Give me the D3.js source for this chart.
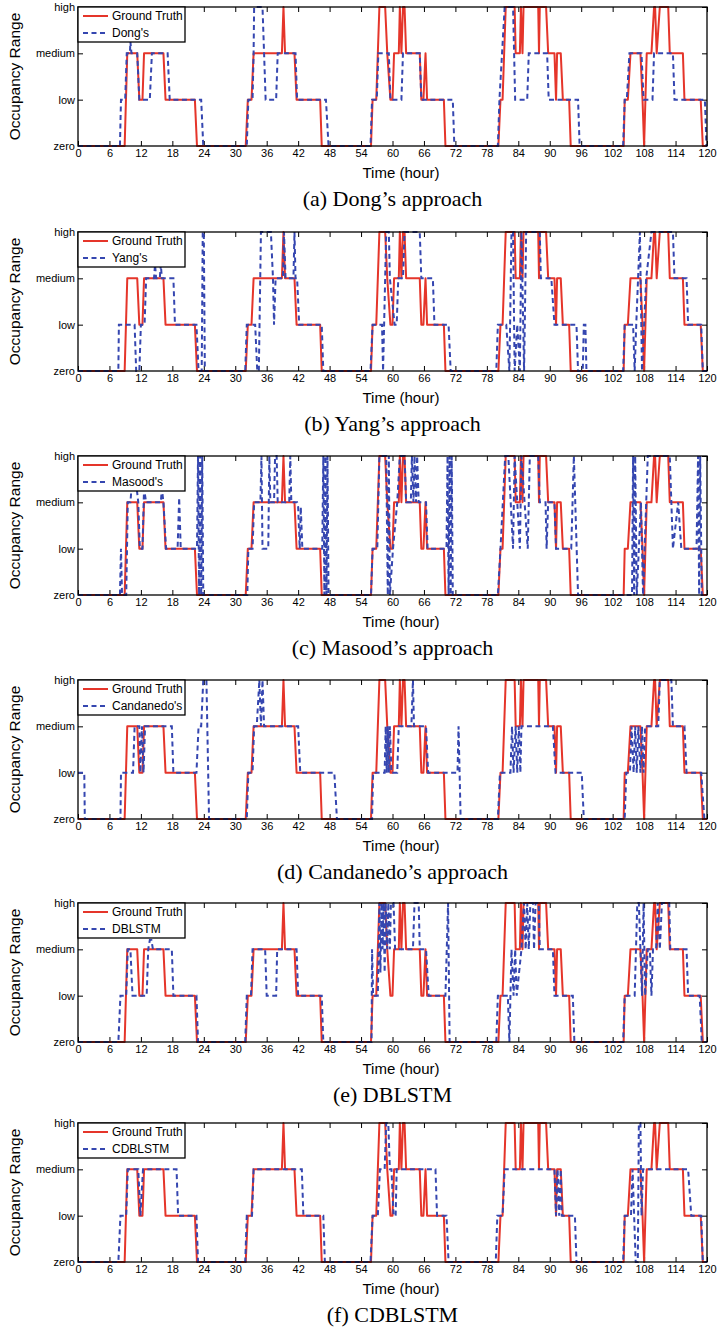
<!DOCTYPE html>
<html>
<head>
<meta charset="utf-8">
<script src="https://cdn.jsdelivr.net/npm/d3@7"></script>
<style>
  body { margin: 0; background: #fff; }
  svg { display: block; }
  .tick text { font-family: "Liberation Sans", Arial, sans-serif; font-size: 11px; fill: #000; }
</style>
</head>
<body>
<svg width="718" height="1328"></svg>
<script>
// occupancy levels on the y axis
var levelLabels = ["zero", "low", "medium", "high"];
var xTickValues = [0, 6, 12, 18, 24, 30, 36, 42, 48, 54, 60, 66, 72, 78, 84, 90, 96, 102, 108, 114, 120];

// ground truth, [hour, level]
var groundTruth = [
  [0,0],[8.9,0],[9.4,2],[11.3,2],[11.7,1],[12.3,1],[12.6,2],[16.3,2],[16.7,1],[22.3,1],[22.7,0],
  [32.0,0],[32.4,1],[33.1,1],[33.5,2],[38.9,2],[39.2,3],[39.5,2],[41.3,2],[41.7,1],[46.2,1],[46.5,0],
  [55.9,0],[56.2,1],[56.9,1],[57.5,3],[58.6,3],[59.0,2],[59.6,1],[60.0,1],[60.3,2],[61.2,2],[61.4,3],[61.7,2],[62.0,3],[62.3,3],[62.6,2],[65.2,2],[65.5,1],[65.9,1],[66.3,2],[66.6,1],[69.8,1],[70.1,0],
  [80.2,0],[80.6,1],[81.0,1],[81.6,3],[83.3,3],[83.5,2],[84.3,2],[84.5,3],[84.8,2],[85.0,3],[87.8,3],[87.95,2],[88.1,3],[89.3,3],[89.7,2],[90.9,2],[91.2,1],[91.4,2],[92.1,2],[92.5,1],[93.7,1],[94.0,0],
  [104.1,0],[104.3,1],[104.9,1],[105.4,2],[107.3,2],[107.7,1],[108.0,0],[108.5,2],[109.4,2],[109.9,3],[110.1,3],[110.4,2],[111.0,3],[112.6,3],[112.9,2],[115.4,2],[115.7,1],[118.8,1],[119.2,0],[120,0]
];

var dong = [
  [0,0],[8.0,0],[8.2,1],[9.0,1],[9.3,2],[9.9,2],[10.0,2.25],[10.2,2],[11.3,2],[11.7,1],[13.7,1],[14.1,2],[17.1,2],[17.5,1],[23.5,1],[23.9,0],
  [32.2,0],[32.5,1],[33.3,1],[33.5,2],[33.6,3],[35.2,3],[35.8,1],[37.8,1],[38.1,2],[41.5,2],[41.8,1],[47.3,1],[47.8,0],
  [55.8,0],[56.1,1],[57.0,1],[57.3,2],[59.3,2],[59.6,1],[61.7,1],[62.0,2],[65.2,2],[65.5,1],[71.5,1],[71.8,0],
  [80.1,0],[80.4,1],[80.9,2],[81.4,3],[83.0,3],[83.4,1],[85.7,1],[86.0,2],[89.5,2],[89.8,1],[95.4,1],[95.7,0],
  [104.0,0],[104.3,1],[104.7,1],[105.2,2],[107.5,2],[107.9,1],[109.6,1],[109.9,2],[113.5,2],[113.8,1],[119.6,1],[119.9,0],[120,0]
];

var yang = [
  [0,0],[7.7,0],[7.8,1],[10.8,1],[11.1,0],[11.7,0],[12.0,1],[12.7,1],[13.0,2],[14.5,2],[14.7,2.3],[14.9,2],[15.6,2],[15.8,2.3],[16.0,2],[18.2,2],[18.5,1],[22.6,1],[23.0,0],[23.6,0],[23.8,3],[24.0,3],[24.2,0],
  [31.9,0],[32.2,1],[33.8,1],[34.2,0],[34.5,0],[34.9,3],[36.8,3],[37.2,2],[37.4,1],[37.7,2],[39.1,2],[39.3,3],[39.6,2],[41.1,2],[41.3,3],[41.5,2],[41.8,2],[42.2,1],[46.5,1],[46.8,0],
  [55.8,0],[56.2,1],[58.0,1],[58.2,0],[58.8,3],[59.3,3],[59.5,2],[60.4,1],[60.8,1],[61.1,2],[62.0,2],[62.3,3],[65.2,3],[65.5,2],[67.7,2],[68.0,1],[70.7,1],[71.1,0],
  [79.8,0],[80.1,1],[81.7,1],[82.3,0],[82.7,3],[83.0,3],[83.3,0],[83.8,1],[84.3,0],[84.6,3],[85.1,0],[85.5,3],[88.1,3],[88.3,2],[90.3,2],[90.9,1],[95.1,1],[95.4,0],[96.3,0],[96.5,1],[96.8,1],[97.0,0],
  [104.0,0],[104.3,1],[105.9,1],[106.2,0],[106.5,1],[107.2,3],[107.6,0],[108.0,1],[108.4,2],[109.4,3],[113.5,3],[113.8,2],[116.1,2],[116.4,1],[118.9,1],[119.2,0],[120,0]
];

var masood = [
  [0,0],[8.0,0],[8.2,1],[8.4,0],[9.2,0],[9.5,2],[10.0,2],[10.2,2.3],[11.2,2.3],[11.5,2],[11.8,1],[12.3,1],[12.6,2.3],[13.0,2],[15.8,2],[16.0,2.3],[16.3,2],[16.8,1],[19.0,1],[19.3,2.1],[19.6,1],[22.7,1],[22.9,3],[23.1,0],[23.3,3],[23.5,0],[23.7,3],[23.9,0],
  [32.3,0],[32.5,1],[33.3,1],[33.6,2],[34.8,2],[35.0,3],[35.2,1],[36.3,1],[36.5,3],[36.7,2],[37.4,2],[37.6,3],[37.9,3],[38.1,2],[40.3,2],[40.5,3],[40.7,2],[41.8,2],[42.0,1.9],[42.3,1],[42.5,1.9],[42.8,1],[46.6,1],[46.8,3],[47.0,0],[47.2,3],[47.4,0],[47.6,3],[47.8,0],
  [55.9,0],[56.2,1],[57.1,1],[57.5,3],[58.8,3],[59.1,0],[59.3,3],[59.5,0],[60.1,1],[60.9,2],[61.4,3],[62.3,3],[62.6,2],[63.5,2],[63.7,3],[64.0,2],[64.2,3],[64.5,2],[64.7,3],[65.0,2],[66.4,2],[66.7,1],[70.3,1],[70.5,3],[70.7,0],[70.9,3],[71.1,0],[71.3,3],[71.5,0],
  [80.1,0],[80.6,1],[81.5,3],[82.1,3],[83.0,1],[83.3,3],[84.3,1],[84.6,3],[85.2,2],[85.8,1],[86.2,3],[87.8,3],[88.1,2],[89.2,2],[89.4,1],[89.7,2],[90.9,2],[91.2,1],[94.1,1],[94.6,3],[95.4,0],
  [104.6,0],[105.7,0],[105.9,3],[106.1,0],[106.3,3],[106.6,0],[107.0,1],[107.4,2],[107.8,0],[108.7,3],[112.9,3],[113.2,2],[113.5,1],[114.5,2],[115.1,1],[118.0,1],[118.3,3],[118.5,0],[118.7,3],[119.0,0],[120,0]
];

var candanedo = [
  [0,1],[1.2,1],[1.3,0],[8.1,0],[8.2,1],[10.5,1],[10.8,2],[11.7,2],[11.9,1],[12.2,2],[12.5,1],[12.8,2],[17.9,2],[18.2,1],[22.6,1],[23.0,2],[23.5,2],[23.9,3],[24.5,3],[25.0,0],
  [32.2,0],[32.5,1],[33.3,1],[33.6,2],[34.1,2],[34.6,3],[34.9,2],[35.2,3],[35.5,2],[42.0,2],[42.4,1],[48.9,1],[49.4,0],
  [56.1,0],[56.3,1],[58.5,1],[58.7,2],[58.9,1],[59.1,2],[59.3,1],[59.5,2],[59.8,1],[60.9,1],[61.2,2],[63.6,2],[63.9,3],[64.1,2],[66.4,2],[66.8,1],[72.4,1],[72.6,2],[73.0,0],
  [80.1,0],[80.5,1],[82.5,1],[82.8,2],[83.1,1],[83.5,2],[83.8,1],[84.1,2],[84.4,1],[84.6,2],[90.6,2],[91.1,1],[96.1,1],[96.5,0],
  [104.3,0],[104.6,1],[105.3,1],[105.6,2],[106.0,1],[106.3,2],[106.6,1],[106.9,2],[107.3,1],[107.6,2],[107.9,1],[108.2,2],[110.7,2],[111.0,3],[113.2,3],[113.5,2],[115.7,2],[116.1,1],[118.9,1],[119.5,0],[120,0]
];

var dblstm = [
  [0,0],[7.7,0],[8.1,1],[9.2,1],[9.5,2],[10.0,2],[10.4,1],[13.1,1],[13.4,2],[13.7,2.2],[14.0,2.2],[14.3,2],[17.9,2],[18.2,1],[22.6,1],[22.9,0],
  [31.9,0],[32.2,1],[33.0,1],[33.3,2],[35.7,2],[36.0,1],[37.8,1],[38.0,2],[41.7,2],[42.0,1],[46.5,1],[46.8,0],
  [56.0,0],[56.1,2],[56.3,1],[57.2,1],[57.5,3],[57.7,1.5],[57.9,3],[58.1,2],[58.3,3],[58.5,1.5],[58.7,3],[59.0,2],[59.2,3],[59.5,2],[59.7,3],[60.2,3],[60.5,2],[63.9,2],[64.2,3],[65.0,3],[65.2,2],[66.4,2],[66.9,1],[70.1,1],[70.6,3],[70.9,0],
  [79.8,0],[80.1,1],[82.0,1],[82.3,0],[82.7,2],[83.1,1],[83.4,2],[83.7,1],[84.6,2],[85.1,3],[85.4,2],[85.7,3],[86.0,2],[86.3,3],[86.8,3],[87.0,2],[87.3,3],[87.9,3],[88.1,2],[90.6,2],[90.9,1],[94.4,1],[94.7,0],
  [104.0,0],[104.3,1],[106.2,1],[106.7,3],[107.0,3],[107.3,2],[107.6,1],[107.9,3],[108.2,1],[108.7,2],[109.1,2],[109.4,1],[109.7,2],[110.3,2],[110.6,3],[111.0,2],[111.4,3],[112.8,3],[113.0,2],[116.1,2],[116.4,1],[118.6,1],[119.0,0],[120,0]
];

var cdblstm = [
  [0,0],[7.7,0],[8.1,1],[9.2,1],[9.5,2],[11.5,2],[11.9,1],[12.4,2],[18.8,2],[19.1,1],[22.6,1],[22.9,0],
  [31.9,0],[32.2,1],[33.2,1],[33.5,2],[42.7,2],[43.0,1],[46.8,1],[47.1,0],
  [55.8,0],[56.2,1],[57.2,1],[57.6,2],[58.5,2],[58.8,3],[59.2,3],[59.5,2],[59.8,2],[60.2,1],[60.6,1],[60.8,2],[68.2,2],[68.5,1],[70.3,1],[70.7,0],
  [79.7,0],[80.0,1],[81.0,1],[81.4,2],[90.9,2],[91.2,1],[91.5,2],[91.8,1],[92.1,2],[92.3,1],[94.8,1],[95.1,0],
  [104.0,0],[104.3,1],[105.5,1],[105.8,2],[106.1,1],[106.4,0],[106.8,0],[107.0,3],[107.3,3],[107.5,1],[107.8,2],[108.1,2],[116.4,2],[117.0,1],[118.9,1],[119.2,0],[120,0]
];

var methodNames = ["Dong's", "Yang's", "Masood's", "Candanedo's", "DBLSTM", "CDBLSTM"];
var captions = ["(a) Dong\u2019s approach", "(b) Yang\u2019s approach", "(c) Masood\u2019s approach",
                "(d) Candanedo\u2019s approach", "(e) DBLSTM", "(f) CDBLSTM"];
var predictions = [dong, yang, masood, candanedo, dblstm, cdblstm];

var svg = d3.select("svg");
var left = 78, plotW = 629, plotH = 139;
var panelTops = [7, 232, 456, 680, 903, 1123];
var red = "#e5352a", blue = "#3546b0";

var x = d3.scaleLinear().domain([0, 120]).range([0, plotW]);
var y = d3.scaleLinear().domain([0, 3]).range([plotH, 0]);

var line = d3.line()
    .x(function(d) { return x(d[0]); })
    .y(function(d) { return y(d[1]); });

predictions.forEach(function(pred, i) {
    var g = svg.append("g")
        .attr("transform", "translate(" + left + "," + panelTops[i] + ")");

    // bottom axis with labels, ticks pointing inward
    var xa = g.append("g")
        .attr("transform", "translate(0," + plotH + ")")
        .call(d3.axisBottom(x).tickValues(xTickValues).tickSizeInner(-5).tickSizeOuter(0).tickPadding(3));
    xa.select(".domain").remove();

    var xt = g.append("g")
        .call(d3.axisTop(x).tickValues(xTickValues).tickSizeInner(-5).tickSizeOuter(0).tickFormat(""));
    xt.select(".domain").remove();

    var ya = g.append("g")
        .call(d3.axisLeft(y).tickValues([0, 1, 2, 3]).tickSizeInner(-5).tickSizeOuter(0).tickPadding(3)
            .tickFormat(function(d) { return levelLabels[d]; }));
    ya.select(".domain").remove();

    var yr = g.append("g")
        .attr("transform", "translate(" + plotW + ",0)")
        .call(d3.axisRight(y).tickValues([0, 1, 2, 3]).tickSizeInner(-5).tickSizeOuter(0).tickFormat(""));
    yr.select(".domain").remove();

    g.selectAll(".tick line").attr("stroke", "#000").attr("stroke-width", 1);

    // series
    g.append("path")
        .datum(groundTruth)
        .attr("fill", "none")
        .attr("stroke", red)
        .attr("stroke-width", 2)
        .attr("stroke-linejoin", "round")
        .attr("d", line);

    g.append("path")
        .datum(pred)
        .attr("fill", "none")
        .attr("stroke", blue)
        .attr("stroke-width", 2)
        .attr("stroke-dasharray", "5,3.5")
        .attr("d", line);

    // axes box
    g.append("rect")
        .attr("width", plotW)
        .attr("height", plotH)
        .attr("fill", "none")
        .attr("stroke", "#000")
        .attr("stroke-width", 1.3);

    // legend
    var lg = g.append("g");
    lg.append("rect")
        .attr("width", 107).attr("height", 35)
        .attr("fill", "#fff").attr("stroke", "#000").attr("stroke-width", 1.3);
    lg.append("line").attr("x1", 5).attr("x2", 30).attr("y1", 9).attr("y2", 9)
        .attr("stroke", red).attr("stroke-width", 2);
    lg.append("line").attr("x1", 5).attr("x2", 30).attr("y1", 26).attr("y2", 26)
        .attr("stroke", blue).attr("stroke-width", 2).attr("stroke-dasharray", "5,3.5");
    lg.append("text").attr("x", 34).attr("y", 13)
        .style("font-family", "Liberation Sans, Arial, sans-serif").style("font-size", "12px")
        .text("Ground Truth");
    lg.append("text").attr("x", 34).attr("y", 30)
        .style("font-family", "Liberation Sans, Arial, sans-serif").style("font-size", "12px")
        .text(methodNames[i]);

    // axis titles
    g.append("text")
        .attr("transform", "translate(-58," + plotH / 2 + ") rotate(-90)")
        .attr("text-anchor", "middle")
        .style("font-family", "Liberation Sans, Arial, sans-serif").style("font-size", "15.5px")
        .text("Occupancy Range");

    g.append("text")
        .attr("x", 323).attr("y", 171)
        .attr("text-anchor", "middle")
        .style("font-family", "Liberation Sans, Arial, sans-serif").style("font-size", "15px")
        .text("Time (hour)");

    g.append("text")
        .attr("x", plotW / 2).attr("y", 199)
        .attr("text-anchor", "middle")
        .style("font-family", "Liberation Serif, Times New Roman, serif").style("font-size", "22px")
        .text(captions[i]);
});
</script>
</body>
</html>
